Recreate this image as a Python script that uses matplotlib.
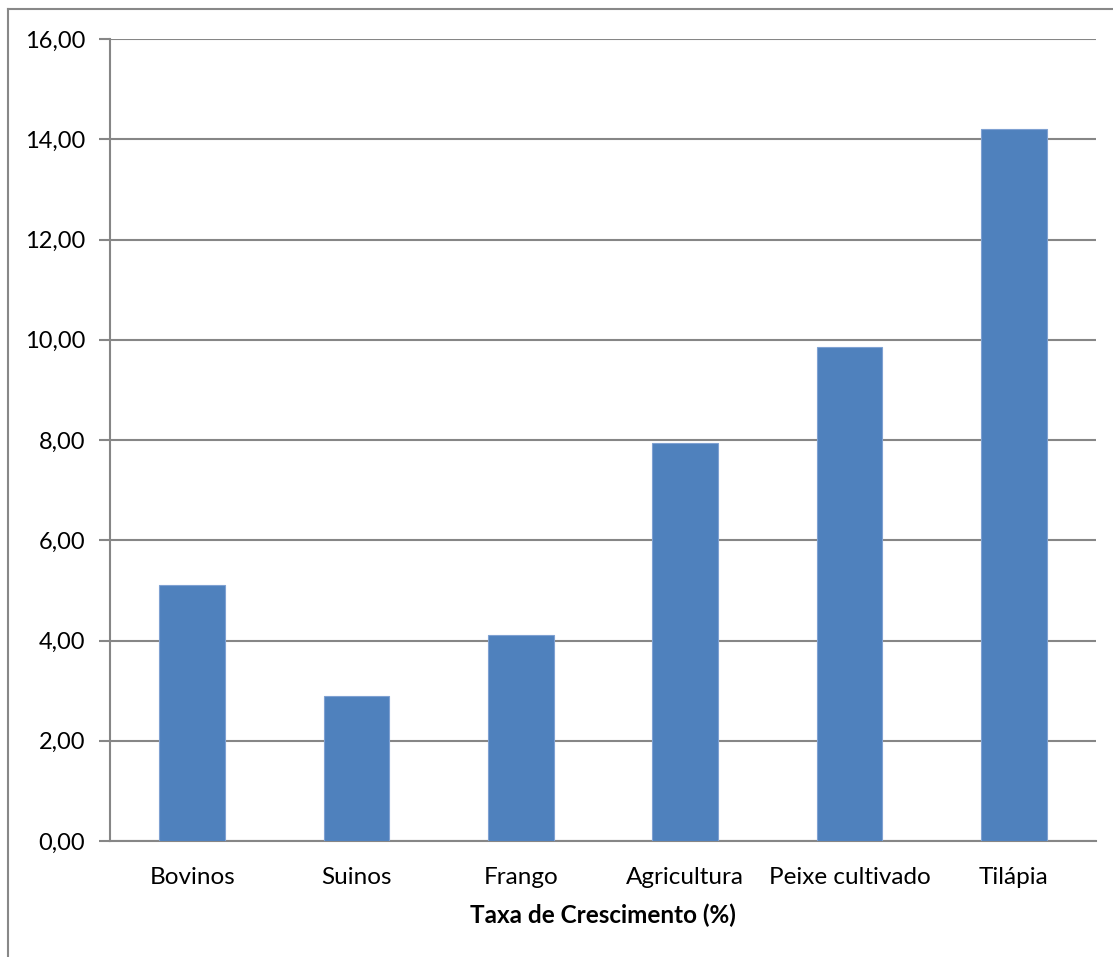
import matplotlib
matplotlib.use("Agg")
import matplotlib.pyplot as plt
from matplotlib.lines import Line2D
from matplotlib.ticker import FuncFormatter

plt.rcParams['font.family'] = ['Lato', 'DejaVu Sans']

categorias = ['Bovinos', 'Suinos', 'Frango', 'Agricultura', 'Peixe cultivado', 'Tilápia']
taxas = [5.10, 2.90, 4.10, 7.95, 9.85, 14.20]
y_ticks = [0, 2, 4, 6, 8, 10, 12, 14, 16]

W, H = 1113, 957
fig = plt.figure(figsize=(W / 100, H / 100), dpi=100)
ax = fig.add_axes([110 / W, 1 - 841 / H, (1096 - 110) / W, (841 - 39) / H])

grid_c = '#868686'
x = range(len(categorias))
ax.bar(x, taxas, width=0.4, color='#4F81BD', edgecolor='#7FA1D2', linewidth=0.8, zorder=3)

ax.set_xlim(-0.5, len(categorias) - 0.5)
ax.set_ylim(0, 16)
ax.set_yticks(y_ticks)
ax.yaxis.set_major_formatter(FuncFormatter(lambda v, p: f'{v:.2f}'.replace('.', ',')))
ax.set_xticks(list(x))
ax.set_xticklabels(categorias)

ax.grid(axis='y', color=grid_c, linewidth=1.5, zorder=0)
for s in ['top', 'right']:
    ax.spines[s].set_visible(False)
for s in ['left', 'bottom']:
    ax.spines[s].set_color(grid_c)
    ax.spines[s].set_linewidth(1.5)

ax.tick_params(axis='y', length=8, width=1.5, color=grid_c, labelsize=17, pad=10)
ax.tick_params(axis='x', length=0, labelsize=17.5, pad=19)
ax.set_xlabel('Taxa de Crescimento (%)', fontsize=17.5, fontweight='bold', labelpad=11)

# moldura do gráfico
fig.add_artist(Line2D([8 / W, 8 / W], [0, 1 - 9 / H], color='#888888', linewidth=1.5))
fig.add_artist(Line2D([8 / W, 1], [1 - 9 / H, 1 - 9 / H], color='#888888', linewidth=1.5))

fig.savefig('out.png', dpi=100)
